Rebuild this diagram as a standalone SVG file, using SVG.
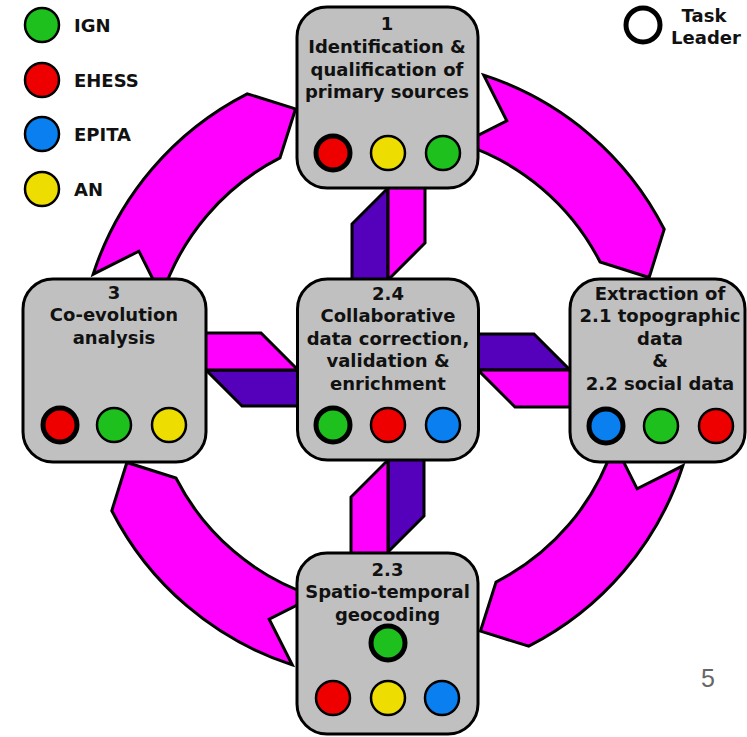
<svg xmlns="http://www.w3.org/2000/svg" xmlns:xlink="http://www.w3.org/1999/xlink" width="747" height="737" viewBox="0 0 747 737">
<style>
.box{fill:#c0c0c0;stroke:#000;stroke-width:3}
.t{font-family:"DejaVu Sans","Liberation Sans",sans-serif;font-weight:bold;font-size:18px;text-anchor:middle;fill:#111}
.lg{font-family:"DejaVu Sans","Liberation Sans",sans-serif;font-weight:bold;font-size:18px;fill:#111}
.arc{fill:#ff00ff;stroke:#000;stroke-width:3;stroke-linejoin:miter}
.mag{fill:#ff00ff;stroke:#000;stroke-width:3}
.pur{fill:#5500bb;stroke:#000;stroke-width:3}
.c{stroke:#000;stroke-width:2.5}
.lead{stroke:#000;stroke-width:5}
.g{fill:#1ec01e}.r{fill:#ee0000}.b{fill:#0a80f0}.y{fill:#eedd00}
</style>
<defs>
<path id="ringArrow" class="arc" d="M93.17,274.2 A310,310 0 0 1 247.26,93.79 L295.53,108.89 L279.95,157.94 A238,238 0 0 0 161.65,296.45 L138.89,251.18 Z"/>
<g id="pair">
<polygon class="pur" points="352,224 388,188 388,284 352,284"/>
<polygon class="mag" points="388,183 425,183 425,243 388,280"/>
</g>
</defs>
<g id="connectors">
<use xlink:href="#ringArrow"/>
<use xlink:href="#ringArrow" transform="rotate(90 388 370)"/>
<use xlink:href="#ringArrow" transform="rotate(180 388 370)"/>
<use xlink:href="#ringArrow" transform="rotate(270 388 370)"/>
<use xlink:href="#pair"/>
<use xlink:href="#pair" transform="rotate(90 388 370)"/>
<use xlink:href="#pair" transform="rotate(180 388 370)"/>
<use xlink:href="#pair" transform="rotate(270 388 370)"/>
</g>
<g id="legend">
<circle class="c g" cx="42" cy="25" r="17"/><text class="lg" x="74" y="32">IGN</text>
<circle class="c r" cx="42" cy="80" r="17"/><text class="lg" x="74" y="87">EHESS</text>
<circle class="c b" cx="42" cy="134" r="17"/><text class="lg" x="74" y="141">EPITA</text>
<circle class="c y" cx="42" cy="189" r="17"/><text class="lg" x="74" y="196">AN</text>
<circle cx="643" cy="25" r="17" fill="none" stroke="#000" stroke-width="5"/>
<text class="t" x="704" y="22">Task</text>
<text class="t" x="706" y="44">Leader</text>
</g>
<g id="node1">
<rect class="box" x="297" y="7" width="181" height="181" rx="30"/>
<text class="t" x="387" y="30">1</text>
<text class="t" x="387" y="53">Identification &amp;</text>
<text class="t" x="387" y="75.5">qualification of</text>
<text class="t" x="387" y="98">primary sources</text>
<circle class="lead r" cx="333" cy="153" r="17"/>
<circle class="c y" cx="388" cy="153" r="17"/>
<circle class="c g" cx="443" cy="153" r="17"/>
</g>
<g id="node3">
<rect class="box" x="23" y="279" width="183" height="183" rx="30"/>
<text class="t" x="114" y="298.5">3</text>
<text class="t" x="114" y="321">Co-evolution</text>
<text class="t" x="114" y="343.5">analysis</text>
<circle class="lead r" cx="60" cy="425" r="17"/>
<circle class="c g" cx="114" cy="425" r="17"/>
<circle class="c y" cx="169" cy="425" r="17"/>
</g>
<g id="node24">
<rect class="box" x="297.5" y="279" width="181" height="181" rx="30"/>
<text class="t" x="388" y="299.5">2.4</text>
<text class="t" x="388" y="322">Collaborative</text>
<text class="t" x="388" y="344.5">data correction,</text>
<text class="t" x="388" y="367">validation &amp;</text>
<text class="t" x="388" y="389.5">enrichment</text>
<circle class="lead g" cx="333" cy="425" r="17"/>
<circle class="c r" cx="388" cy="425" r="17"/>
<circle class="c b" cx="443" cy="425" r="17"/>
</g>
<g id="node21">
<rect class="box" x="570" y="279" width="175" height="183" rx="30"/>
<text class="t" x="660" y="299.5">Extraction of</text>
<text class="t" x="660" y="322">2.1 topographic</text>
<text class="t" x="660" y="344.5">data</text>
<text class="t" x="660" y="367">&amp;</text>
<text class="t" x="660" y="389.5">2.2 social data</text>
<circle class="lead b" cx="606" cy="426" r="17"/>
<circle class="c g" cx="661" cy="426" r="17"/>
<circle class="c r" cx="716" cy="426" r="17"/>
</g>
<g id="node23">
<rect class="box" x="297" y="553" width="181" height="181" rx="30"/>
<text class="t" x="387.5" y="575.5">2.3</text>
<text class="t" x="387.5" y="598">Spatio-temporal</text>
<text class="t" x="387.5" y="620.5">geocoding</text>
<circle class="lead g" cx="388" cy="643" r="17"/>
<circle class="c r" cx="333" cy="698" r="17"/>
<circle class="c y" cx="388" cy="698" r="17"/>
<circle class="c b" cx="442" cy="698" r="17"/>
</g>
<text x="708" y="687" font-family="Liberation Sans, Arial, sans-serif" font-size="25" fill="#666" text-anchor="middle">5</text>
</svg>
